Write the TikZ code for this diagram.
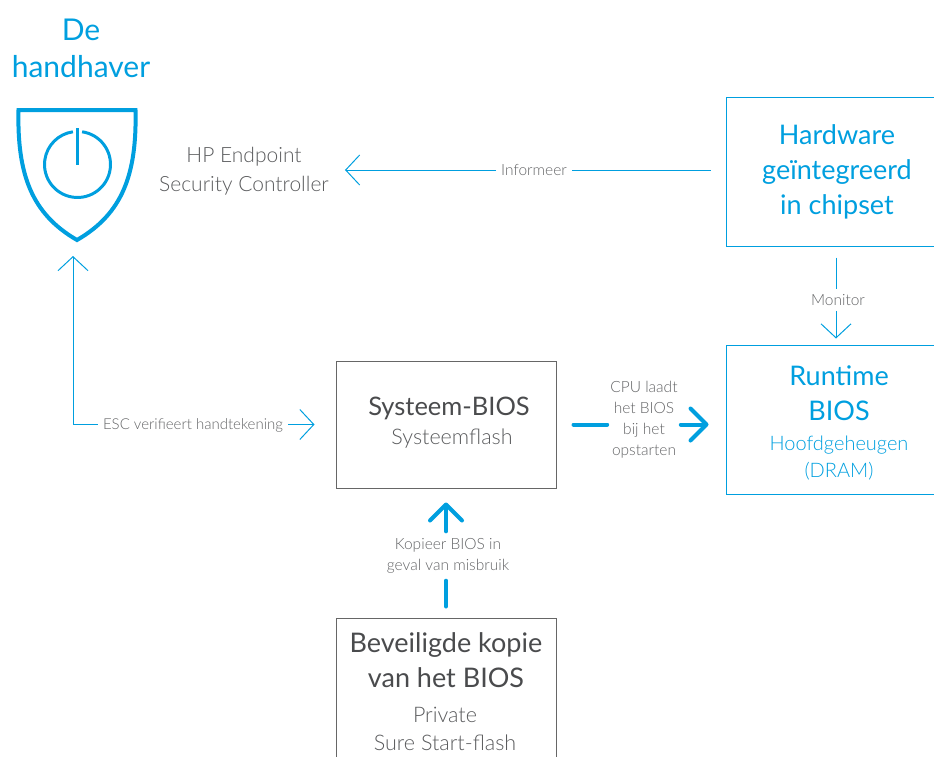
\documentclass[tikz,border=0pt]{standalone}
\usepackage{fontspec}
\setmainfont{Lato}
\newfontfamily\lightfont{Lato Light}
\usetikzlibrary{arrows.meta}
\definecolor{hpblue}{HTML}{009FDF}
\definecolor{titlegray}{HTML}{4A4B4D}
\definecolor{subgray}{HTML}{5A5B5D}
\definecolor{labelgray}{HTML}{636466}
\definecolor{boxgray}{HTML}{666666}
\tikzset{
  x=1pt,y=-1pt,
  bluebox/.style={draw=hpblue,line width=1pt,rectangle,inner sep=0pt},
  graybox/.style={draw=boxgray,line width=1pt,rectangle,inner sep=0pt},
  titletext/.style={font=\fontsize{27}{35}\selectfont,align=center,inner sep=0pt},
  subtext/.style={font=\lightfont\fontsize{21.5}{28}\selectfont,align=center,inner sep=0pt},
  edgelabel/.style={font=\lightfont\fontsize{15.5}{21}\selectfont,text=labelgray,align=center,inner sep=5pt},
  thinarrow/.style={draw=hpblue,line width=1pt,-{Straight Barb[length=14pt,width=30pt,line width=1pt]}},
  thinline/.style={draw=hpblue,line width=1pt},
  thickarrow/.style={draw=hpblue,line width=4pt,line cap=round,-{Straight Barb[length=16pt,width=32pt,line width=4pt,round]}},
  thickline/.style={draw=hpblue,line width=4pt,line cap=round},
}
\begin{document}
\begin{tikzpicture}
\useasboundingbox (0,0) rectangle (934,756);
\clip (0,0) rectangle (934,756);
% boxes
\node[bluebox,minimum width=220pt,minimum height=149pt] (hw) at (836,171.5) {};
\node[bluebox,minimum width=220pt,minimum height=149pt] (run) at (836,419.5) {};
\node[graybox,minimum width=220pt,minimum height=127pt] (sys) at (446,424.5) {};
\node[graybox,minimum width=220pt,minimum height=180pt] (copy) at (446,708) {};
% titles
\node[titletext,text=hpblue,font=\fontsize{30}{37.5}\selectfont] (enforcer) at (81,48.5) {De\\handhaver};
\node[subtext,text=subgray,font=\lightfont\fontsize{21}{29}\selectfont] (ctrl) at (244,171.5) {HP Endpoint\\Security Controller};
\node[titletext,text=hpblue] (hwt) at (837,172) {Hardware\\geïntegreerd\\in chipset};
\node[titletext,text=hpblue] (runt) at (839,393) {Runtime\\BIOS};
\node[subtext,text=hpblue,font=\lightfont\fontsize{20}{27}\selectfont] (runs) at (839,458) {Hoofdgeheugen\\(DRAM)};
\node[titletext,text=titlegray,font=\fontsize{25.5}{33}\selectfont] (syst) at (449,408) {Systeem-BIOS};
\node[subtext,text=subgray] (syss) at (452,439) {Systeemflash};
\node[titletext,text=titlegray] (copyt) at (446,660) {Beveiligde kopie\\van het BIOS};
\node[subtext,text=subgray] (copys) at (445,729) {Private\\Sure Start-flash};
% shield
\coordinate (shA) at (18.5,110);
\coordinate (shB) at (135.5,110);
\coordinate (shC) at (77,240);
\draw[hpblue,line width=4pt,line join=miter] (shA) -- (shB)
  .. controls (137,175) and (122,214) .. (shC)
  .. controls (32,214) and (17,175) .. (shA) -- cycle;
\draw[hpblue,line width=3pt] (82.1,131.8) arc[start angle=82,end angle=-262,radius=33pt];
\draw[hpblue,line width=3pt] (77,128) -- (77,165);
% edge labels
\node[edgelabel] (inf) at (534,170) {Informeer};
\node[edgelabel] (mon) at (838,300) {Monitor};
\node[edgelabel,font=\lightfont\fontsize{15}{21}\selectfont] (esc) at (193,425) {ESC verifieert handtekening};
\node[edgelabel,inner sep=3pt] (cpu) at (644,420) {CPU laadt\\het BIOS\\bij het\\opstarten};
\node[edgelabel,inner sep=7pt] (kop) at (448,556) {Kopieer BIOS in\\geval van misbruik};
% connectors
\coordinate (upTip) at (73,256);
\draw[thinline,shorten <=15pt] (hw.west |- inf.east) -- (inf.east);
\draw[thinarrow,shorten >=16pt] (inf.west) -- (ctrl.east |- inf.west);
\draw[thinline,shorten <=11pt] (hw.south) -- (hw.south |- mon.north);
\draw[thinarrow,shorten >=6pt] (hw.south |- mon.south) -- (run.north);
\draw[thinarrow] (esc.west |- sys.west) -| (upTip);
\draw[thinarrow,shorten >=21pt] (esc.east |- sys.west) -- (sys.west);
\draw[thickline,shorten <=17pt] (sys.east) -- (cpu.west |- sys.east);
\draw[thickarrow,shorten >=17pt] (cpu.east |- sys.east) -- (run.west |- sys.east);
\draw[thickline,shorten <=11pt] (copy.north) -- (copy.north |- kop.south);
\draw[thickarrow,shorten >=14pt] (sys.south |- kop.north) -- (sys.south);
\end{tikzpicture}
\end{document}
